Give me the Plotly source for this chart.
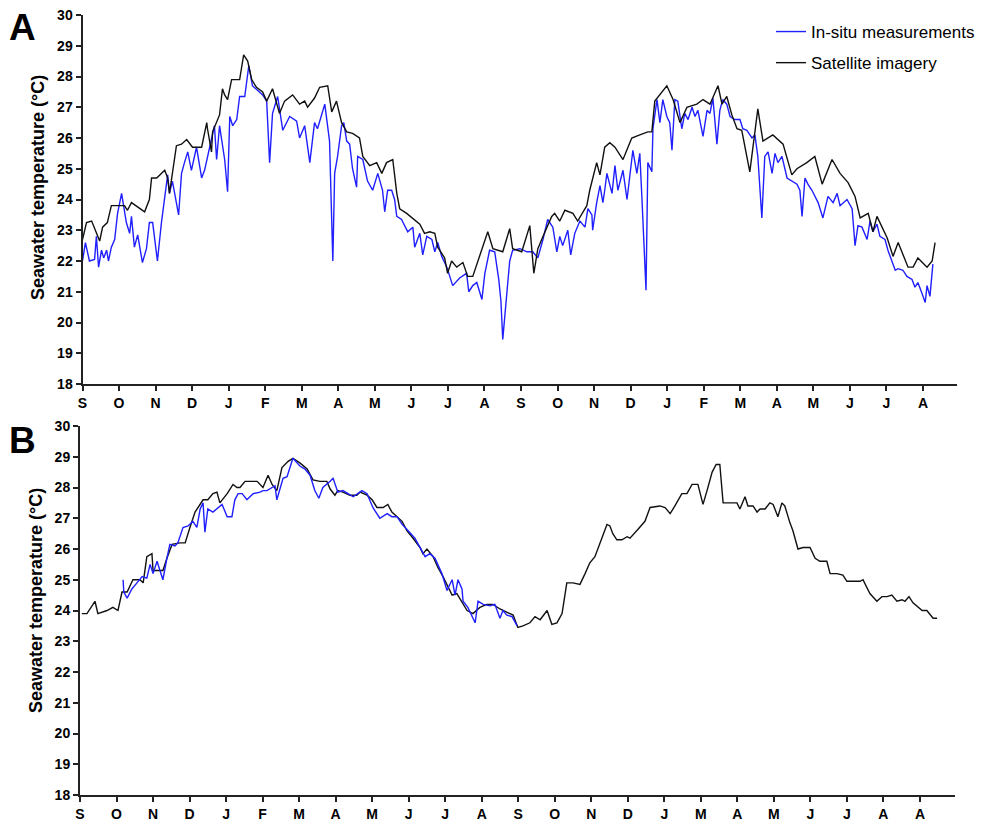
import plotly.graph_objects as go

# ---------------- DATA (x = months since start of September, y = °C) ----------------
# Panel A - satellite imagery
a_sat_m = [0.00,0.11,0.25,0.47,0.55,0.68,0.79,1.15,1.23,1.34,1.70,1.83,1.89,2.03,2.25,2.33,2.38,2.57,2.71,2.85,
           3.01,3.26,3.40,3.42,3.53,3.56,3.75,3.83,3.89,3.97,4.08,4.30,4.41,4.52,4.63,4.76,4.93,5.04,5.20,5.39,
           5.53,5.75,5.94,6.08,6.16,6.35,6.49,6.71,6.82,6.95,7.09,7.23,7.39,7.58,7.67,7.86,8.05,8.19,8.32,8.49,
           8.60,8.68,8.87,9.23,9.36,9.50,9.64,9.72,9.91,9.99,10.10,10.24,10.41,10.54,10.68,11.09,11.23,11.50,11.69,11.77,
           12.02,12.24,12.35,12.46,12.60,12.84,12.92,13.06,13.20,13.42,13.55,13.80,13.88,14.07,14.16,14.29,14.43,14.57,14.79,15.03,
           15.25,15.47,15.58,15.66,15.99,16.16,16.35,16.54,16.81,16.98,17.17,17.39,17.50,17.63,17.77,17.91,18.04,18.26,18.48,18.62,
           18.89,19.17,19.41,19.55,19.82,20.04,20.24,20.51,20.73,20.95,21.14,21.28,21.50,21.63,21.74,22.02,22.18,22.32,22.59,22.73,
           22.86,23.11,23.25,23.33]
a_sat_t = [22.7,23.25,23.3,22.65,23.1,23.25,23.8,23.8,23.65,23.9,23.6,24.0,24.7,24.7,24.95,24.7,24.2,25.75,25.8,25.95,
           25.7,25.7,26.5,26.3,25.55,26.2,26.75,27.6,27.4,27.25,27.9,27.9,28.7,28.5,27.9,27.65,27.5,27.2,27.6,26.8,
           27.2,27.4,27.1,27.2,27.0,27.3,27.65,27.7,26.85,27.2,26.5,26.2,26.15,26.0,25.4,25.1,25.2,24.85,25.2,25.3,
           24.2,23.7,23.55,23.2,22.9,22.95,22.9,22.45,22.1,21.6,22.0,21.8,21.95,21.5,21.5,22.95,22.4,22.3,23.05,22.4,
           22.3,23.15,21.6,22.4,22.8,23.45,23.55,23.3,23.65,23.55,23.3,23.8,24.3,25.2,24.8,25.7,25.85,25.7,25.3,26.0,
           26.1,26.2,26.2,27.2,27.7,27.25,26.5,27.0,27.1,27.25,27.1,27.7,27.1,27.35,26.75,26.3,26.25,24.9,26.95,25.9,
           26.1,25.8,24.8,25.0,25.2,25.4,24.5,25.3,24.85,24.55,24.1,23.4,23.55,22.95,23.45,22.75,22.15,22.6,21.8,21.8,
           22.1,21.8,22.0,22.6]

# Panel A - in-situ measurements
a_ins_m = [0.00,0.08,0.19,0.33,0.38,0.44,0.52,0.58,0.66,0.71,0.79,0.88,0.96,1.07,1.20,1.29,1.34,1.42,1.51,1.64,
           1.75,1.83,1.92,2.05,2.16,2.25,2.33,2.38,2.46,2.63,2.71,2.79,2.88,2.98,3.12,3.26,3.34,3.48,3.61,3.67,
           3.75,3.89,3.97,4.03,4.11,4.22,4.30,4.44,4.55,4.65,4.93,5.04,5.12,5.20,5.34,5.48,5.67,5.86,5.94,6.08,
           6.22,6.35,6.43,6.63,6.76,6.85,6.90,6.98,7.09,7.15,7.23,7.31,7.39,7.50,7.53,7.67,7.80,7.94,8.08,8.21,
           8.27,8.35,8.46,8.54,8.60,8.73,8.90,9.04,9.09,9.23,9.31,9.42,9.56,9.64,9.72,9.83,9.97,10.13,10.32,10.51,
           10.57,10.68,10.79,10.93,11.01,11.14,11.28,11.39,11.45,11.50,11.61,11.69,11.77,11.97,12.16,12.32,12.46,12.60,12.73,12.87,
           12.98,13.06,13.14,13.28,13.36,13.47,13.61,13.75,13.83,13.94,13.96,14.07,14.16,14.24,14.29,14.35,14.49,14.57,14.65,14.79,
           14.90,15.06,15.17,15.25,15.31,15.36,15.42,15.47,15.58,15.61,15.72,15.80,15.88,15.99,16.07,16.13,16.21,16.29,16.40,16.48,
           16.57,16.68,16.76,16.84,16.98,17.09,17.17,17.25,17.36,17.44,17.52,17.63,17.72,17.85,17.99,18.07,18.18,18.32,18.40,18.48,
           18.59,18.67,18.76,18.87,18.95,19.03,19.14,19.28,19.41,19.55,19.63,19.69,19.77,19.85,19.96,20.04,20.13,20.26,20.40,20.54,
           20.65,20.73,20.92,21.06,21.14,21.22,21.33,21.47,21.55,21.63,21.74,21.82,21.96,22.04,22.24,22.32,22.45,22.56,22.70,22.78,
           22.86,22.97,23.06,23.11,23.19,23.27]
a_ins_t = [22.0,22.6,22.0,22.05,22.8,21.8,22.35,22.1,22.35,22.0,22.45,22.7,23.55,24.2,23.25,22.9,23.45,22.45,22.85,21.95,
           22.4,23.25,23.25,22.0,23.25,24.1,24.8,24.2,24.6,23.5,24.85,25.2,25.55,24.95,25.7,24.7,24.95,25.7,26.4,25.3,
           26.4,25.3,24.25,26.7,26.4,26.6,27.35,27.35,28.35,27.7,27.4,27.2,25.2,26.8,27.35,26.25,26.7,26.55,26.0,26.4,
           25.2,26.5,26.3,27.1,25.9,22.0,24.85,25.4,26.4,26.5,25.9,25.8,25.0,24.4,25.4,25.3,24.6,24.3,24.85,24.3,
           23.6,24.3,24.3,24.0,23.45,23.35,22.95,23.1,22.45,22.9,22.2,22.8,22.7,22.3,22.6,22.15,21.8,21.2,21.45,21.6,
           21.0,21.2,21.3,20.75,21.6,22.35,22.3,21.4,20.7,19.45,20.95,22.0,22.35,22.4,22.3,22.3,22.1,22.7,23.35,23.1,
           22.3,22.8,22.5,23.0,22.2,22.9,23.3,23.1,23.7,23.5,23.0,23.9,24.45,23.9,24.3,24.85,24.2,25.1,24.3,24.95,
           24.0,25.6,24.85,25.5,24.0,22.35,21.05,25.2,24.9,26.3,27.25,26.5,27.25,26.7,26.5,25.6,27.25,27.2,26.3,26.8,
           26.6,27.0,26.7,26.9,26.05,26.9,26.8,27.3,25.8,26.9,27.25,27.1,26.7,26.6,26.6,26.3,26.25,26.0,26.1,25.4,
           23.4,25.4,25.55,24.85,25.5,25.2,25.4,24.7,24.6,24.5,24.3,23.45,24.7,24.5,24.3,24.1,23.9,23.4,24.1,23.9,
           24.2,23.8,24.0,23.7,22.5,23.15,23.1,22.7,23.3,22.95,23.2,22.8,22.7,22.35,21.7,21.75,21.7,21.5,21.4,21.15,
           21.3,20.95,20.65,21.2,20.85,21.9]

# Panel B - satellite imagery
b_sat_m = [0.05,0.19,0.41,0.49,0.74,0.90,1.04,1.15,1.29,1.45,1.64,1.73,1.83,1.97,2.00,2.27,2.38,2.52,2.74,2.88,
           3.01,3.15,3.37,3.50,3.64,3.75,3.83,4.03,4.19,4.30,4.38,4.52,4.85,5.01,5.15,5.26,5.39,5.53,5.70,5.83,
           6.02,6.22,6.38,6.57,6.76,6.85,6.98,7.06,7.20,7.39,7.58,7.67,7.86,8.00,8.13,8.30,8.43,8.54,8.82,8.95,
           9.12,9.31,9.39,9.50,9.67,9.80,9.94,10.08,10.19,10.32,10.46,10.60,10.76,10.95,11.14,11.31,11.50,11.69,11.86,11.99,
           12.13,12.32,12.46,12.60,12.79,12.92,13.06,13.20,13.33,13.50,13.69,13.83,13.96,14.10,14.24,14.43,14.51,14.59,14.70,14.84,
           14.98,15.06,15.25,15.42,15.47,15.61,15.88,16.02,16.16,16.29,16.48,16.62,16.76,16.92,17.06,17.17,17.31,17.42,17.52,17.61,
           17.99,18.07,18.21,18.29,18.43,18.54,18.62,18.76,18.89,18.98,19.11,19.22,19.30,19.44,19.52,19.66,19.80,19.99,20.13,20.26,
           20.45,20.54,20.73,20.89,21.00,21.36,21.44,21.63,21.82,21.96,22.10,22.23,22.37,22.51,22.59,22.70,22.81,23.06,23.19,23.36,
           23.47]
b_sat_t = [23.9,23.9,24.3,23.9,24.0,24.1,24.0,24.6,24.6,25.0,25.0,24.9,25.75,25.85,25.3,25.3,25.7,26.15,26.2,26.2,
           26.7,27.2,27.6,27.6,27.8,27.85,27.5,27.8,28.1,28.0,28.0,28.2,28.2,28.0,28.4,28.1,27.9,28.65,28.85,28.95,
           28.8,28.6,28.25,28.2,28.2,27.95,27.75,27.9,27.85,27.75,27.75,27.85,27.75,27.6,27.35,27.35,27.45,27.2,26.9,26.6,
           26.35,26.05,25.85,26.0,25.75,25.4,25.1,24.75,24.5,24.55,24.25,24.0,23.9,24.1,24.2,24.2,24.05,23.95,23.85,23.45,
           23.5,23.6,23.8,23.7,24.0,23.55,23.6,23.9,24.9,24.9,24.85,25.2,25.55,25.75,26.2,26.8,26.75,26.5,26.3,26.3,
           26.4,26.35,26.6,26.85,26.9,27.35,27.4,27.35,27.15,27.4,27.8,27.8,28.1,28.1,27.45,27.9,28.5,28.75,28.75,27.5,
           27.5,27.3,27.7,27.4,27.4,27.2,27.3,27.3,27.5,27.45,27.05,27.5,27.4,26.85,26.6,26.0,26.05,26.05,25.7,25.6,
           25.6,25.2,25.2,25.15,24.95,24.95,25.0,24.55,24.3,24.45,24.45,24.5,24.3,24.35,24.3,24.45,24.25,24.0,24.0,23.75,
           23.75]

# Panel B - in-situ measurements
b_ins_m = [1.18,1.20,1.29,1.42,1.56,1.70,1.83,1.92,2.00,2.11,2.19,2.27,2.38,2.46,2.60,2.68,2.82,2.96,3.09,3.20,
           3.29,3.37,3.42,3.50,3.64,3.78,3.89,4.03,4.16,4.24,4.33,4.44,4.57,4.74,4.93,5.01,5.12,5.26,5.34,5.39,
           5.48,5.56,5.67,5.83,6.02,6.16,6.30,6.43,6.54,6.65,6.85,6.93,7.06,7.20,7.34,7.48,7.72,7.86,8.02,8.21,
           8.41,8.54,8.68,8.82,8.98,9.17,9.31,9.45,9.58,9.72,9.91,10.05,10.19,10.27,10.35,10.46,10.49,10.62,10.82,10.90,
           11.04,11.23,11.36,11.50,11.58,11.69,11.83,11.97]
b_ins_t = [25.0,24.6,24.4,24.7,24.9,25.1,25.05,25.5,25.2,25.6,25.3,25.0,25.7,26.15,26.1,26.2,26.7,26.75,26.9,26.7,
           27.3,27.5,26.55,27.3,27.2,27.35,27.45,27.05,27.05,27.6,27.8,27.8,27.6,27.8,27.85,27.9,27.9,28.0,28.05,27.6,
           28.0,28.3,28.35,28.95,28.7,28.6,28.4,27.9,27.65,28.0,28.2,28.3,27.85,27.9,27.8,27.7,27.9,27.8,27.35,27.0,
           27.15,27.05,27.05,26.8,26.6,26.35,26.05,25.75,25.85,25.7,25.2,24.65,25.0,24.5,25.0,24.7,24.3,24.1,23.6,24.3,
           24.2,24.15,24.2,23.75,24.0,23.85,23.8,23.5]

month_ticks = list(range(24))
labels_a = ["S","O","N","D","J","F","M","A","M","J","J","A",
            "S","O","N","D","J","F","M","A","M","J","J","A"]
labels_b = ["S","O","N","D","J","F","M","A","M","J","J","A",
            "S","O","N","D","J","M","A","M","J","J","A","A"]
y_ticks = list(range(18, 31))

series_names = ["In-situ measurements", "Satellite imagery"]
y_title = "Seawater temperature (°C)"
BLUE = "#1f1fff"
BLACK = "#111111"

# ---------------- FIGURE ----------------
FONT = "Liberation Sans, Arial, sans-serif"
W, H = 989, 821
OFF = 8  # page body margin in the browser

fig = go.Figure()
fig.add_trace(go.Scatter(x=a_ins_m, y=a_ins_t, mode="lines", name=series_names[0],
                         line=dict(color=BLUE, width=1.4), xaxis="x", yaxis="y",
                         legendgroup="g1"))
fig.add_trace(go.Scatter(x=a_sat_m, y=a_sat_t, mode="lines", name=series_names[1],
                         line=dict(color=BLACK, width=1.4), xaxis="x", yaxis="y",
                         legendgroup="g2"))
fig.add_trace(go.Scatter(x=b_sat_m, y=b_sat_t, mode="lines", name=series_names[1],
                         line=dict(color=BLACK, width=1.4), xaxis="x2", yaxis="y2",
                         showlegend=False))
fig.add_trace(go.Scatter(x=b_ins_m, y=b_ins_t, mode="lines", name=series_names[0],
                         line=dict(color=BLUE, width=1.4), xaxis="x2", yaxis="y2",
                         showlegend=False))

def px_x(p):
    return (p - OFF) / W

def px_y(p):
    return 1 - (p - OFF) / H

axis_common = dict(showline=True, linecolor="#222", linewidth=2, ticks="outside",
                   tickcolor="#222", tickwidth=2, ticklen=5, showgrid=False, zeroline=False,
                   automargin=False, ticklabeloverflow="allow",
                   tickfont=dict(family=FONT, size=14, color="black", weight="bold"))
title_font = dict(family=FONT, size=18, color="black", weight="bold")

xa = dict(axis_common, range=[0, 23.93], tickmode="array", tickvals=month_ticks,
          ticktext=labels_a, domain=[px_x(82.5), px_x(957)], anchor="y")
ya = dict(axis_common, range=[18, 30], tickmode="array", tickvals=y_ticks,
          domain=[px_y(384), px_y(15)], anchor="x")
xb = dict(axis_common, range=[0, 23.96], tickmode="array", tickvals=month_ticks,
          ticktext=labels_b, domain=[px_x(80), px_x(955)], anchor="y2")
yb = dict(axis_common, range=[18, 30], tickmode="array", tickvals=y_ticks,
          domain=[px_y(795), px_y(426)], anchor="x2")

fig.update_layout(
    width=W, height=H,
    margin=dict(l=0, r=0, t=0, b=0, autoexpand=False),
    paper_bgcolor="white", plot_bgcolor="white",
    xaxis=xa, yaxis=ya, xaxis2=xb, yaxis2=yb,
    showlegend=True,
    legend=dict(x=px_x(771), y=px_y(14), xanchor="left", yanchor="top",
                bgcolor="rgba(0,0,0,0)", traceorder="grouped", tracegroupgap=6,
                font=dict(family=FONT, size=17, color="black"), itemwidth=30),
    annotations=[
        dict(text="<b>A</b>", x=px_x(22), y=px_y(27), xref="paper", yref="paper",
             xanchor="center", yanchor="middle",
             showarrow=False, font=dict(family=FONT, size=37, color="black")),
        dict(text="<b>B</b>", x=px_x(22), y=px_y(440), xref="paper", yref="paper",
             xanchor="center", yanchor="middle",
             showarrow=False, font=dict(family=FONT, size=37, color="black")),
        dict(text=y_title, x=px_x(38), y=px_y(188), xref="paper", yref="paper",
             xanchor="center", yanchor="middle", textangle=-90,
             showarrow=False, font=title_font),
        dict(text=y_title, x=px_x(36), y=px_y(601), xref="paper", yref="paper",
             xanchor="center", yanchor="middle", textangle=-90,
             showarrow=False, font=title_font),
    ],
)

fig.write_html("out.html")
